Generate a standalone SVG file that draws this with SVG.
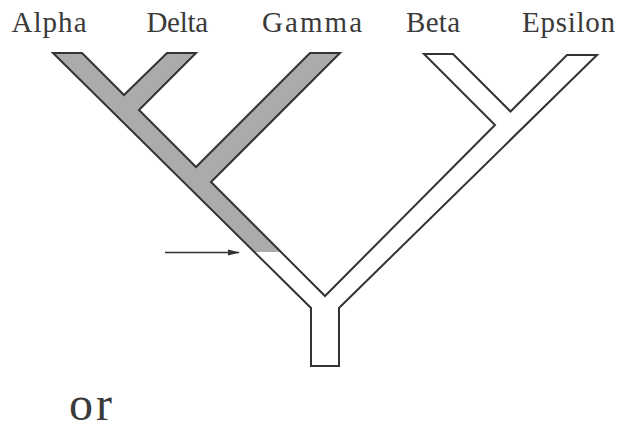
<svg xmlns="http://www.w3.org/2000/svg" width="617" height="430" viewBox="0 0 617 430">
  <style>
    .lbl { font-family: "Liberation Serif", "Times New Roman", serif; font-size: 29px; fill: #3a3a3a; }
    .or { font-family: "Liberation Serif", "Times New Roman", serif; font-size: 48px; fill: #3a3a3a; }
    .outline { fill: none; stroke: #333333; stroke-width: 2; stroke-linejoin: miter; }
    .shade { fill: #ababab; stroke: none; }
    .arrow { stroke: #333333; stroke-width: 1.5; fill: none; }
  </style>
  <defs>
    <marker id="head" markerWidth="12" markerHeight="8" refX="11" refY="4" orient="auto" markerUnits="userSpaceOnUse">
      <path d="M0,1 L12,4 L0,7 Z" fill="#333333"/>
    </marker>
  </defs>
  <rect width="617" height="430" fill="#ffffff"/>

  <g id="tree">
    <polygon class="shade" points="53,53 82,53 124,95 167,53 196,53 139,110 196,167 310,53 340,53 211,182 281,252 254,252"/>
    <polygon class="outline" points="53,53 82,53 124,95 167,53 196,53 139,110 196,167 310,53 340,53 211,182 325,296 495,125 424,54 453,54 510.5,111.5 567,55 597,55 339,308 339,366 311,366 311,308"/>
  </g>

  <g id="alpha"><text class="lbl" x="11.5" y="32" textLength="75" lengthAdjust="spacing">Alpha</text></g>
  <g id="delta"><text class="lbl" x="146.5" y="32" textLength="61.5" lengthAdjust="spacing">Delta</text></g>
  <g id="gamma"><text class="lbl" x="262" y="32" textLength="100" lengthAdjust="spacing">Gamma</text></g>
  <g id="beta"><text class="lbl" x="406" y="32" textLength="54" lengthAdjust="spacing">Beta</text></g>
  <g id="epsilon"><text class="lbl" x="522" y="32" textLength="93" lengthAdjust="spacing">Epsilon</text></g>

  <g id="connectors">
    <line class="arrow" x1="165" y1="252.5" x2="239" y2="252.5" marker-end="url(#head)"/>
  </g>

  <g id="or-label"><text class="or" x="69" y="420" textLength="43" lengthAdjust="spacing">or</text></g>
</svg>
